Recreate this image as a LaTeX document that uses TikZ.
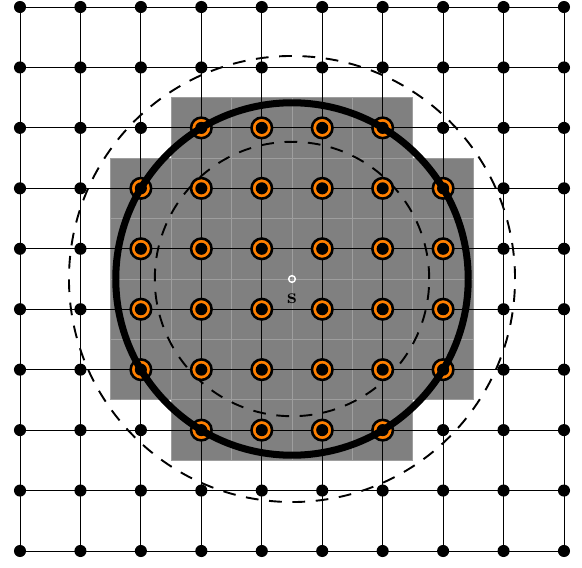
\documentclass[tikz,border=0pt]{standalone}
\definecolor{cellgray}{gray}{0.5}
\definecolor{cellline}{gray}{0.62}
\definecolor{markorange}{rgb}{1,0.5,0}
\begin{document}
\begin{tikzpicture}[
  dot/.style={circle,fill=black,inner sep=0pt,minimum size=0.2cm},
  orangemark/.style={circle,draw=black,line width=1.2pt,fill=markorange,inner sep=0pt,minimum size=0.34cm},
  cell/.style={fill=cellgray,draw=cellline,line width=0.4pt},
  gridline/.style={line width=0.45pt},
  dashring/.style={line width=0.9pt,dash pattern=on 6pt off 5pt},
  thickring/.style={line width=3.3pt}
]
\useasboundingbox (-0.331,-0.265) rectangle (9.298,9.116);
\coordinate (s) at (4.5,4.5);
% gray cells
\foreach \j/\a/\b in {7/3/6,6/2/7,5/2/7,4/2/7,3/2/7,2/3/6}{
  \foreach \i in {\a,...,\b}{
    \draw[cell] (\i-0.5,\j-0.5) rectangle (\i+0.5,\j+0.5);
  }
}
% grid point coordinates
\foreach \i in {0,...,9}{
  \foreach \j in {0,...,9}{
    \coordinate (g-\i-\j) at (\i,\j);
  }
}
% grid lines
\foreach \k in {0,...,9}{
  \draw[gridline] (g-0-\k) -- (g-9-\k);
  \draw[gridline] (g-\k-0) -- (g-\k-9);
}
% dashed rings
\draw[dashring] (s) circle[radius=2.27];
\draw[dashring] (s) circle[radius=3.69];
% orange markers
\foreach \j/\a/\b in {7/3/6,6/2/7,5/2/7,4/2/7,3/2/7,2/3/6}{
  \foreach \i in {\a,...,\b}{
    \node[orangemark] (m-\i-\j) at (g-\i-\j) {};
  }
}
% dots
\foreach \i in {0,...,9}{
  \foreach \j in {0,...,9}{
    \node[dot] (p-\i-\j) at (g-\i-\j) {};
  }
}
% thick circle
\draw[thickring] (s) circle[radius=2.9155];
% source point
\node[circle,draw=white,line width=0.7pt,inner sep=0pt,minimum size=0.11cm] (src) at (s) {};
\node[inner sep=0pt] (srclabel) at (4.5,4.18) {\textbf{s}};
\end{tikzpicture}
\end{document}
